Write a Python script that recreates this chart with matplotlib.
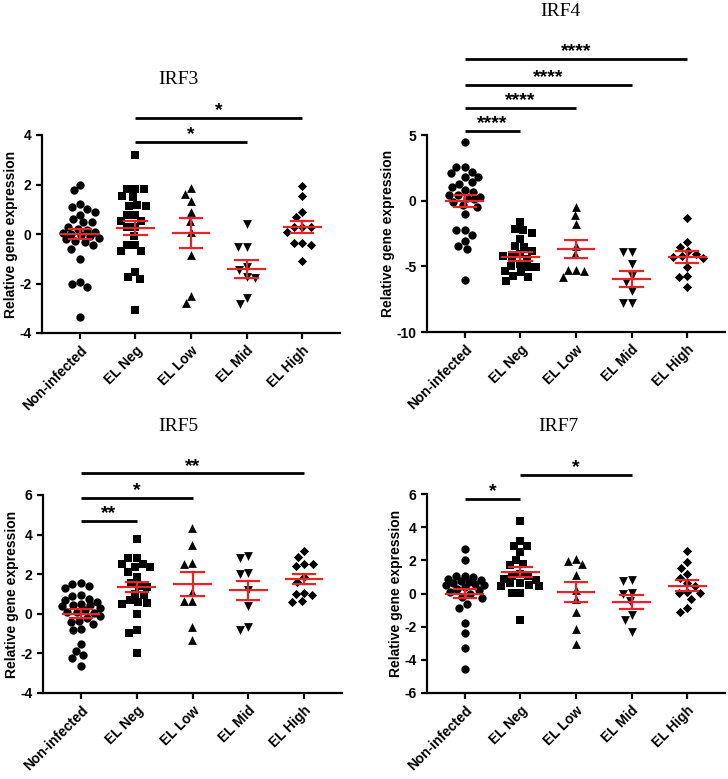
import numpy as np
import matplotlib
matplotlib.use("Agg")
import matplotlib.pyplot as plt

groups = ["Non-infected", "EL Neg", "EL Low", "EL Mid", "EL High"]
markers = ["o", "s", "^", "v", "D"]

# IRF3
irf3_noninf = [2.0, 1.76, 1.22, 1.01, 1.08, 0.78, 0.9, 0.47, 0.47, 0.6, 0.3, 0.15, 0.1, 0.05, 0.0,
               -0.05, -0.1, -0.15, 0.2, -0.2, -0.3, -0.34, -0.45, -0.6, -1.01, -2.0, -2.13, -1.92, -3.35]
irf3_neg = [3.2, 1.82, 1.82, 1.82, 1.55, 1.49, 1.15, 1.15, 1.19, 0.78, 0.78, 0.54, 0.54, 0.27, 0.27,
            -0.07, -0.45, -0.45, -0.7, -0.7, -1.72, -1.82, -1.53, -3.08]
irf3_low = [1.86, 1.6, 1.35, 0.88, 0.54, 0.07, -0.84, -2.5, -2.77]
irf3_mid = [0.4, -0.54, -0.54, -1.35, -1.46, -1.73, -1.78, -2.81, -2.59]
irf3_high = [1.92, 1.55, 0.9, 0.68, 0.27, 0.27, 0.27, 0.07, -0.36, -0.43, -0.36, -1.08]
irf3_mean = [0.0, 0.24, 0.04, -1.42, 0.30]
irf3_sem = [0.2, 0.27, 0.59, 0.37, 0.24]
irf3_sig = [(1, 4, 4.7, "*"), (1, 3, 3.72, "*")]

# IRF4
irf4_noninf = [4.49, 2.58, 2.58, 2.19, 2.07, 1.81, 1.81, 1.3, 1.43, 0.79, 1.05, 0.66, 0.41, 0.41, 0.3,
               0.2, 0.1, -0.1, -0.48, -0.36, -1.0, -2.27, -2.27, -2.65, -3.47, -3.67, -3.04, -6.05]
irf4_neg = [-1.63, -2.14, -2.27, -2.47, -2.91, -3.42, -3.49, -3.8, -4.05, -4.18, -4.18, -4.44, -4.82,
            -4.95, -5.08, -5.08, -5.33, -5.46, -5.71, -5.84, -6.1]
irf4_low = [-0.48, -1.12, -1.76, -3.42, -4.06, -5.28, -5.33, -5.28, -5.84]
irf4_mid = [-3.93, -3.93, -4.82, -5.71, -6.22, -6.86, -7.76, -7.76]
irf4_high = [-1.3, -3.16, -3.49, -3.8, -4.06, -4.2, -4.31, -4.4, -5.08, -5.77, -5.84, -6.61]
irf4_mean = [0.0, -4.26, -3.7, -5.97, -4.31]
irf4_sem = [0.45, 0.32, 0.67, 0.59, 0.44]
irf4_sig = [(0, 1, 5.3, "****"), (0, 2, 7.07, "****"), (0, 3, 8.8, "****"), (0, 4, 10.8, "****")]

# IRF5
irf5_noninf = [1.55, 1.52, 1.39, 1.32, 0.93, 0.9, 0.76, 0.68, 0.6, 0.5, 0.42, 0.42, 0.4, 0.3, 0.2,
               0.1, 0.08, 0.05, -0.1, -0.2, -0.34, -0.42, -0.51, -0.76, -0.84, -1.52, -1.86, -2.06,
               -2.25, -2.62]
irf5_neg = [3.77, 2.84, 2.84, 2.53, 2.53, 2.36, 2.36, 2.11, 1.86, 1.55, 1.4, 1.35, 1.01, 0.93, 0.68,
            0.54, 0.59, 0.51, 0.0, -0.81, -0.98, -1.99]
irf5_low = [4.31, 3.46, 2.57, 2.53, 1.1, 0.64, 0.64, -0.68, -1.32]
irf5_mid = [2.84, 2.9, 2.06, 2.03, 1.22, 0.37, -0.81, -0.68]
irf5_high = [3.18, 2.87, 2.53, 2.4, 2.5, 1.86, 1.6, 1.05, 0.93, 0.98, 0.59, 0.64]
irf5_mean = [0.0, 1.35, 1.52, 1.18, 1.77]
irf5_sem = [0.22, 0.27, 0.61, 0.5, 0.26]
irf5_sig = [(0, 1, 4.7, "**"), (0, 2, 5.86, "*"), (0, 4, 7.1, "**")]

# IRF7
irf7_noninf = [2.71, 2.01, 1.04, 1.04, 1.0, 0.9, 0.8, 0.74, 0.7, 0.64, 0.6, 0.54, 0.54, 0.4, 0.3,
               0.2, 0.1, 0.0, -0.22, -0.26, -0.66, -0.86, -1.77, -2.37, -3.27, -4.54]
irf7_neg = [4.36, 3.19, 2.85, 2.89, 2.49, 2.05, 1.75, 1.69, 1.2, 1.04, 1.04, 0.9, 0.8, 0.64, 0.64,
            0.5, 0.44, 0.44, 0.04, 0.04, -1.61]
irf7_low = [2.09, 1.95, 1.75, 1.1, 0.2, -0.32, -1.12, -2.13, -3.07]
irf7_mid = [0.8, 0.74, 0.04, 0.0, -0.46, -1.27, -1.57, -2.33]
irf7_high = [2.55, 1.89, 1.55, 1.2, 0.94, 0.64, 0.48, 0.1, 0.04, 0.04, -0.36, -0.86, -1.12]
irf7_mean = [0.0, 1.29, 0.08, -0.52, 0.48]
irf7_sem = [0.27, 0.28, 0.6, 0.43, 0.33]
irf7_sig = [(0, 1, 5.7, "*"), (1, 3, 7.14, "*")]

RED = "#e5252a"
W, H = 728, 779


def swarm(ax, x0, vals, d, cap):
    # GraphPad-like scatter: push points sideways (pixel space), never wider than cap
    tr = ax.transData
    px = tr.transform(np.column_stack([np.full(len(vals), x0), vals]))
    ys = px[:, 1]
    placed = []
    offs = np.zeros(len(vals))
    grid = np.linspace(-cap, cap, 31)
    for i in np.argsort(vals)[::-1]:
        cands = [0.0]
        for xj, yj in placed:
            dy = abs(ys[i] - yj)
            if dy < d:
                dx = np.sqrt(d * d - dy * dy)
                cands += [xj - dx, xj + dx]
        cands = sorted([c for c in cands if abs(c) <= cap], key=abs)
        best = None
        for c in cands:
            if all((c - xj) ** 2 + (ys[i] - yj) ** 2 >= d * d - 1e-6 for xj, yj in placed):
                best = c
                break
        if best is None:
            # no free slot: take the least crowded spot inside the cap
            score = [min((g - xj) ** 2 + (ys[i] - yj) ** 2 for xj, yj in placed) for g in grid]
            best = grid[int(np.argmax(score))]
        offs[i] = best
        placed.append((best, ys[i]))
    back = tr.inverted().transform(np.column_stack([px[:, 0] + offs, ys]))
    return back[:, 0]


def panel(fig, box, title, title_xy, data, mean, sem, sig, ylim, yticks):
    l, t, r, b = box
    ax = fig.add_axes([l / W, 1 - b / H, (r - l) / W, (b - t) / H])
    ax.set_xlim(-0.68, 4.68)
    ax.set_ylim(*ylim)
    for s in ["top", "right"]:
        ax.spines[s].set_visible(False)
    for s in ["left", "bottom"]:
        ax.spines[s].set_linewidth(1.6)
    ax.set_xticks(range(5))
    ax.set_xticklabels(groups, rotation=45, ha="right", rotation_mode="anchor",
                       fontsize=10, fontweight="bold", family="Liberation Sans")
    ax.set_yticks(yticks)
    ax.set_yticklabels([str(v) for v in yticks], fontsize=10, fontweight="bold",
                       family="Liberation Sans")
    ax.tick_params(width=1.6, length=4, direction="out")
    ax.set_ylabel("Relative gene expression", fontsize=10, fontweight="bold",
                  family="Liberation Sans", labelpad=1)

    sizes = {"o": 36, "s": 34, "^": 40, "v": 40, "D": 22}
    for i, vals in enumerate(data):
        xs = swarm(ax, i, np.array(vals, float), 8.5, 19.0)
        ax.scatter(xs, vals, marker=markers[i], s=sizes[markers[i]], color="black",
                   linewidths=0, zorder=2, clip_on=False)
        m, e = mean[i], sem[i]
        ax.plot([i - 0.33, i + 0.33], [m, m], color=RED, lw=1.6, zorder=3)
        ax.plot([i, i], [m - e, m + e], color=RED, lw=1.6, zorder=3)
        ax.plot([i - 0.2, i + 0.2], [m + e, m + e], color=RED, lw=1.6, zorder=3)
        ax.plot([i - 0.2, i + 0.2], [m - e, m - e], color=RED, lw=1.6, zorder=3)

    for a, c, y, lab in sig:
        ax.plot([a, c], [y, y], color="black", lw=2.0, clip_on=False, solid_capstyle="butt")
        ax.annotate(lab, ((a + c) / 2, y), xytext=(0, -1), textcoords="offset points",
                    ha="center", va="bottom", fontsize=14, fontweight="bold",
                    family="Liberation Sans", annotation_clip=False)

    fig.text(title_xy[0] / W, 1 - title_xy[1] / H, title, ha="center", va="center",
             fontsize=14, family="Liberation Serif")
    return ax


fig = plt.figure(figsize=(W / 100, H / 100), dpi=100)

panel(fig, (42, 135, 340, 333), "IRF3", (178, 80),
      [irf3_noninf, irf3_neg, irf3_low, irf3_mid, irf3_high], irf3_mean, irf3_sem, irf3_sig,
      (-4, 4), [-4, -2, 0, 2, 4])
panel(fig, (427, 135, 725, 332), "IRF4", (560, 12),
      [irf4_noninf, irf4_neg, irf4_low, irf4_mid, irf4_high], irf4_mean, irf4_sem, irf4_sig,
      (-10, 5), [-10, -5, 0, 5])
panel(fig, (43, 495, 342, 693), "IRF5", (178, 427),
      [irf5_noninf, irf5_neg, irf5_low, irf5_mid, irf5_high], irf5_mean, irf5_sem, irf5_sig,
      (-4, 6), [-4, -2, 0, 2, 4, 6])
panel(fig, (427, 494, 725, 693), "IRF7", (558, 427),
      [irf7_noninf, irf7_neg, irf7_low, irf7_mid, irf7_high], irf7_mean, irf7_sem, irf7_sig,
      (-6, 6), [-6, -4, -2, 0, 2, 4, 6])

fig.savefig("out.png", dpi=100)
